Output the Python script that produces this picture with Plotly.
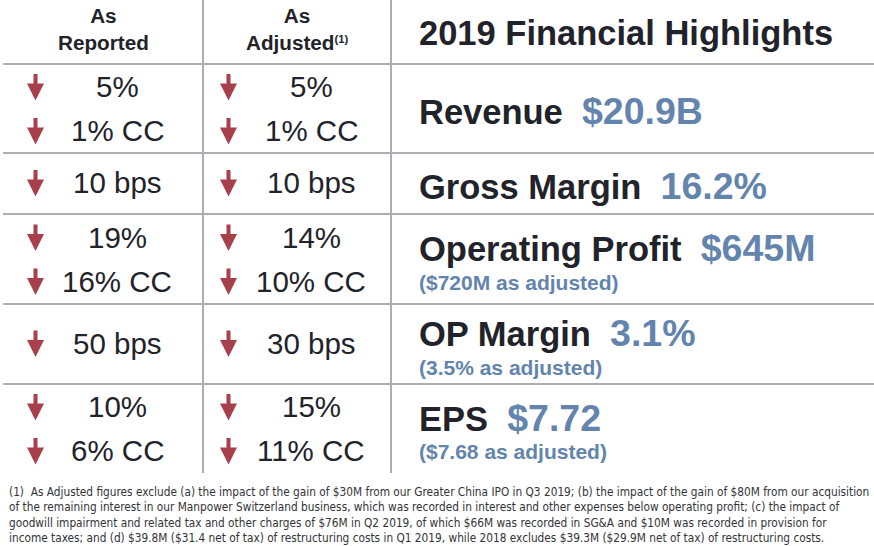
import plotly.graph_objects as go

# --- data ---
metrics = ["Revenue", "Gross Margin", "Operating Profit", "OP Margin", "EPS"]
values = ["$20.9B", "16.2%", "$645M", "3.1%", "$7.72"]
adjusted_notes = ["", "", "($720M as adjusted)", "(3.5% as adjusted)", "($7.68 as adjusted)"]
as_reported = [["5%", "1% CC"], ["10 bps"], ["19%", "16% CC"], ["50 bps"], ["10%", "6% CC"]]
as_adjusted = [["5%", "1% CC"], ["10 bps"], ["14%", "10% CC"], ["30 bps"], ["15%", "11% CC"]]
col_headers = ["As<br>Reported", "As<br>Adjusted<span style='font-size:16px'><sup>(1)</sup></span>"]
title = "2019 Financial Highlights"
footnote = ("(1)  As Adjusted figures exclude (a) the impact of the gain of $30M from our Greater China IPO in Q3 2019; "
            "(b) the impact of the gain of $80M from our acquisition<br>"
            "of the remaining interest in our Manpower Switzerland business, which was recorded in interest and other "
            "expenses below operating profit; (c) the impact of<br>"
            "goodwill impairment and related tax and other charges of $76M in Q2 2019, of which $66M was recorded in "
            "SG&A and $10M was recorded in provision for<br>"
            "income taxes; and (d) $39.8M ($31.4 net of tax) of restructuring costs in Q1 2019, while 2018 excludes "
            "$39.3M ($29.9M net of tax) of restructuring costs.")

# --- layout constants ---
W, H = 874, 546
row_lines = [64, 153, 214, 304, 384]
grid_bottom = 473
col_lines = [203, 391]
col_centers = [103, 297]
text_x = [117, 311]
arrow_x = [35.5, 228.5]
label_x = 417

DARK = "#22232a"
BLUE = "#6384ad"
RED = "#a8404c"
GRID = "#adadb3"
FONT = "Liberation Sans, Arial, sans-serif"

fig = go.Figure()
ann = []
shapes = []

# grid
for y in row_lines:
    shapes.append(dict(type="line", x0=3, x1=W, y0=y, y1=y, line=dict(color=GRID, width=2)))
for x in col_lines:
    shapes.append(dict(type="line", x0=x, x1=x, y0=0, y1=grid_bottom, line=dict(color=GRID, width=2)))

# headers
for cx, h in zip(col_centers, col_headers):
    ann.append(dict(x=cx, y=29, text="<b>" + h + "</b>", showarrow=False, xanchor="center", yanchor="middle",
                    font=dict(size=20.7, color=DARK, family=FONT), align="center"))
ann.append(dict(x=label_x, y=33, text="<b>" + title + "</b>", showarrow=False, xanchor="left", yanchor="middle",
                font=dict(size=34.5, color=DARK, family=FONT)))

bounds = row_lines + [grid_bottom]
for i in range(len(metrics)):
    mid = (bounds[i] + bounds[i + 1]) / 2
    for c, col in enumerate([as_reported[i], as_adjusted[i]]):
        if len(col) == 2:
            ys = [mid - 22, mid + 22]
        else:
            ys = [mid - 1]
        for txt, y in zip(col, ys):
            ann.append(dict(x=text_x[c], y=y, text=txt, showarrow=False, xanchor="center", yanchor="middle",
                            font=dict(size=29.5, color=DARK, family=FONT)))
            ann.append(dict(x=arrow_x[c], y=y + 14, ax=arrow_x[c], ay=y - 14, axref="x", ayref="y",
                            text="", showarrow=True, arrowhead=2, arrowsize=0.85, arrowwidth=4,
                            arrowcolor=RED))
    label = ("<b>" + metrics[i] + "</b>&nbsp;&nbsp;<span style='color:" + BLUE + ";font-size:37.5px'><b>"
             + values[i] + "</b></span>")
    ly = mid + 2 if adjusted_notes[i] == "" else mid - 11
    ann.append(dict(x=label_x, y=ly, text=label, showarrow=False, xanchor="left", yanchor="middle",
                    font=dict(size=34.5, color=DARK, family=FONT)))
    if adjusted_notes[i]:
        ann.append(dict(x=label_x, y=mid + 23, text="<b>" + adjusted_notes[i] + "</b>", showarrow=False,
                        xanchor="left", yanchor="middle", font=dict(size=21, color=BLUE, family=FONT)))

# footnote
ann.append(dict(x=7, y=515, text=footnote, showarrow=False, xanchor="left", yanchor="middle", align="left",
                font=dict(size=11.75, color="#333338",
                          family="Liberation Sans Narrow, Arial Narrow, DejaVu Sans Condensed, sans-serif")))

fig.add_trace(go.Scatter(x=[0, W], y=[0, H], mode="markers", marker=dict(opacity=0), hoverinfo="skip",
                         showlegend=False))
fig.update_layout(
    width=W, height=H, margin=dict(l=0, r=0, t=0, b=0),
    paper_bgcolor="white", plot_bgcolor="white",
    xaxis=dict(range=[0, W], visible=False, fixedrange=True),
    yaxis=dict(range=[H, 0], visible=False, fixedrange=True),
    annotations=ann, shapes=shapes, showlegend=False,
)
# page body has a default 8px margin, drop it so the figure sits at 0,0
fig.write_html("out.html", config={"displayModeBar": False},
               post_script="document.body.style.margin='0';document.body.style.overflow='hidden';")
